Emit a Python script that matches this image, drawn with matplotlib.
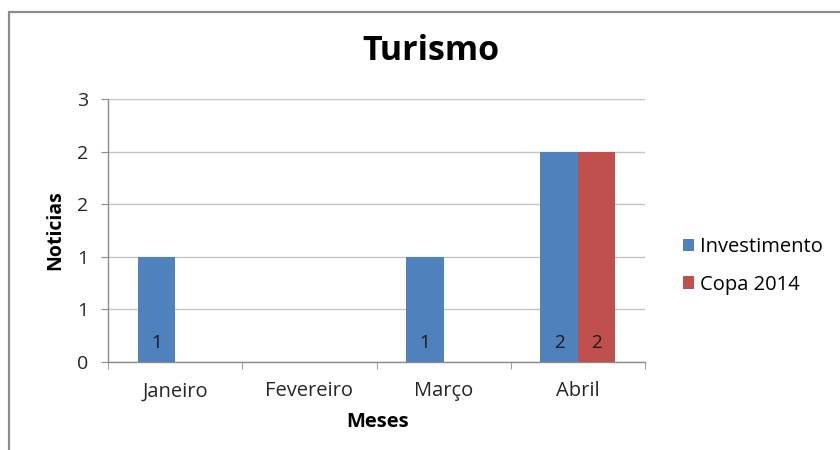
import numpy as np
import matplotlib
matplotlib.use("Agg")
import matplotlib.pyplot as plt
from matplotlib.patches import Rectangle, Patch
from matplotlib.ticker import FixedLocator, FuncFormatter

plt.rcParams['font.family'] = ['Open Sans', 'DejaVu Sans']

months = ["Janeiro", "Fevereiro", "Março", "Abril"]
investimento = [1, 0, 1, 2]
copa_2014 = [0, 0, 0, 2]
series_names = ["Investimento", "Copa 2014"]
colors = ["#4F81BD", "#C0504D"]
y_ticks = [0, 0.5, 1, 1.5, 2, 2.5]

fig = plt.figure(figsize=(8.4, 4.5), dpi=100)

# outer chart frame (cropped on right/bottom like the screenshot)
fig.patches.append(Rectangle((9 / 840, -0.1), 1.2, 1 - 12 / 450 + 0.1,
                             transform=fig.transFigure, fill=False,
                             edgecolor="#8c8c8c", linewidth=1.6))

ax = fig.add_axes([108 / 840, 88 / 450, 537 / 840, 263 / 450])

x = np.arange(len(months))
w = 0.28
for i, (vals, name) in enumerate(zip([investimento, copa_2014], series_names)):
    offs = (i - 0.5) * w
    ax.bar(x + offs, vals, width=w, color=colors[i], label=name, zorder=3)
    for xi, v in zip(x + offs, vals):
        if v:
            ax.annotate(str(v), (xi, 0), xytext=(0, 14), textcoords="offset points",
                        ha="center", va="center", fontsize=13.5, color="#1a1a1a", zorder=4)

ax.set_xlim(-0.5, 3.5)
ax.set_ylim(0, 2.5)
ax.yaxis.set_major_locator(FixedLocator(y_ticks))
ax.yaxis.set_major_formatter(FuncFormatter(lambda v, p: str(int(v + 0.5))))
ax.set_xticks(x)
ax.set_xticklabels(months)
ax.set_xticks(np.arange(-0.5, 4.0, 1.0), minor=True)
ax.tick_params(axis="x", which="major", length=0, pad=14, labelsize=14.5, labelcolor="#262626")
ax.tick_params(axis="x", which="minor", length=5, color="#8c8c8c", direction="out")
ax.tick_params(axis="y", length=5, color="#8c8c8c", pad=9, labelsize=14, labelcolor="#262626")

ax.grid(axis="y", color="#c4c4c4", linewidth=1, zorder=0)
for s in ["top", "right"]:
    ax.spines[s].set_visible(False)
for s in ["left", "bottom"]:
    ax.spines[s].set_color("#8c8c8c")
    ax.spines[s].set_linewidth(1)

fig.text(431 / 840, 1 - 51 / 450, "Turismo", ha="center", va="center",
         fontsize=24.5, fontweight="bold")
fig.text(55 / 840, 1 - 230 / 450, "Noticias", rotation=90, ha="center", va="center",
         fontsize=14, fontweight="bold")
fig.text(378 / 840, 1 - 422 / 450, "Meses", ha="center", va="center",
         fontsize=14.5, fontweight="bold")

handles = [Patch(facecolor=c, label=n) for c, n in zip(colors, series_names)]
fig.legend(handles=handles, loc="center left", bbox_to_anchor=(665 / 840, 1 - 266 / 450),
           frameon=False, fontsize=14.5, handlelength=0.55, handleheight=0.55,
           handletextpad=0.3, labelspacing=0.85)

fig.savefig("out.png", dpi=100)
